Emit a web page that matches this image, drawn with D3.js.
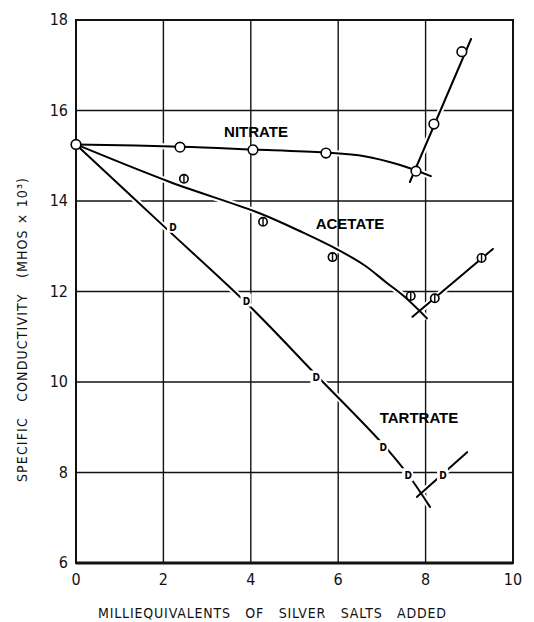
<!DOCTYPE html>
<html>
<head>
<meta charset="utf-8">
<script src="https://cdn.jsdelivr.net/npm/d3@7"></script>
<style>
  body { margin: 0; background: #fff; }
  svg { display: block; }
  .tick-label { font-family: "DejaVu Sans Condensed", "DejaVu Sans", sans-serif; font-size: 16px; font-weight: 300; fill: #111; }
  .axis-title { font-family: "DejaVu Sans Condensed", "DejaVu Sans", sans-serif; font-size: 14px; font-weight: 300; fill: #111; white-space: pre; }
  .series-label { font-family: "Liberation Sans", Arial, sans-serif; font-weight: bold; font-size: 15px; fill: #000; }
</style>
</head>
<body>
<svg id="chart"></svg>
<script>
// Chart size
const width = 534;
const height = 622;

// Tick values
const xTicks = [0, 2, 4, 6, 8, 10];
const yTicks = [6, 8, 10, 12, 14, 16, 18];

// Measured points (milliequivalents, conductivity x 10^3)
const nitrateX = [0, 2.38, 4.05, 5.72, 7.78, 8.19, 8.83];
const nitrateY = [15.25, 15.19, 15.13, 15.06, 14.66, 15.70, 17.30];
const acetateX = [2.47, 4.28, 5.87, 7.66, 8.21, 9.28];
const acetateY = [14.49, 13.54, 12.76, 11.90, 11.85, 12.74];
const tartrateX = [2.22, 3.9, 5.5, 7.03, 7.6, 8.4];
const tartrateY = [13.43, 11.8, 10.1, 8.56, 7.94, 7.94];

// Hand-drawn fitted curves
const nitrateFall = [[0, 15.25], [2.4, 15.2], [4.0, 15.14], [5.7, 15.07], [6.6, 14.99], [7.4, 14.8], [8.12, 14.55]];
const nitrateRise = [[7.64, 14.42], [9.04, 17.58]];
const acetateFall = [[0, 15.25], [2.15, 14.42], [4.2, 13.73], [5.2, 13.3], [6.0, 12.92], [6.6, 12.58], [7.1, 12.2], [7.5, 11.9], [8.03, 11.41]];
const acetateRise = [[7.7, 11.44], [9.54, 12.94]];
const tartrateFall = [[0, 15.25], [2.0, 13.45], [4.0, 11.65], [5.5, 10.15], [7.0, 8.65], [7.6, 7.95], [8.1, 7.24]];
const tartrateRise = [[7.8, 7.46], [8.95, 8.45]];

const svg = d3.select("#chart")
  .attr("width", width)
  .attr("height", height);

const x = d3.scaleLinear().domain([0, 10]).range([76, 513]);
const y = d3.scaleLinear().domain([6, 18]).range([563, 20]);

// Grid lines
const grid = svg.append("g");
grid.selectAll(".vgrid")
  .data(xTicks)
  .join("line")
  .attr("x1", d => x(d)).attr("x2", d => x(d))
  .attr("y1", y(6)).attr("y2", y(18))
  .attr("stroke", "#111")
  .attr("stroke-width", 1.4);
grid.selectAll(".hgrid")
  .data(yTicks)
  .join("line")
  .attr("x1", x(0)).attr("x2", x(10))
  .attr("y1", d => y(d)).attr("y2", d => y(d))
  .attr("stroke", "#111")
  .attr("stroke-width", 1.6);

// Frame
svg.append("rect")
  .attr("x", x(0)).attr("y", y(18))
  .attr("width", x(10) - x(0)).attr("height", y(6) - y(18))
  .attr("fill", "none")
  .attr("stroke", "#111")
  .attr("stroke-width", 2);
svg.append("line")
  .attr("x1", x(0)).attr("x2", x(10))
  .attr("y1", y(6)).attr("y2", y(6))
  .attr("stroke", "#111")
  .attr("stroke-width", 2.8);

// Tick labels
svg.selectAll(".xlab")
  .data(xTicks)
  .join("text")
  .attr("class", "tick-label")
  .attr("x", d => x(d))
  .attr("y", y(6) + 22)
  .attr("text-anchor", "middle")
  .text(d => d);
svg.selectAll(".ylab")
  .data(yTicks)
  .join("text")
  .attr("class", "tick-label")
  .attr("x", 68)
  .attr("y", d => y(d) + 5)
  .attr("text-anchor", "end")
  .text(d => d);

// Axis titles
svg.append("text")
  .attr("class", "axis-title")
  .attr("x", 272)
  .attr("y", 618)
  .attr("text-anchor", "middle")
  .attr("textLength", 348)
  .attr("lengthAdjust", "spacing")
  .text("MILLIEQUIVALENTS   OF   SILVER   SALTS   ADDED");
svg.append("text")
  .attr("class", "axis-title")
  .attr("transform", "translate(27,330) rotate(-90)")
  .attr("text-anchor", "middle")
  .attr("textLength", 304)
  .attr("lengthAdjust", "spacing")
  .text("SPECIFIC   CONDUCTIVITY   (MHOS × 10³)");

// Curves with a white halo that breaks the grid where they cross
const curved = d3.line().x(d => x(d[0])).y(d => y(d[1])).curve(d3.curveCatmullRom.alpha(0.5));
const straight = d3.line().x(d => x(d[0])).y(d => y(d[1]));
const curves = [
  [nitrateFall, curved], [nitrateRise, straight],
  [acetateFall, curved], [acetateRise, straight],
  [tartrateFall, curved], [tartrateRise, straight]
];
curves.forEach(([pts, gen]) => {
  svg.append("path").attr("d", gen(pts))
    .attr("fill", "none").attr("stroke", "#fff").attr("stroke-width", 6);
});
curves.forEach(([pts, gen]) => {
  svg.append("path").attr("d", gen(pts))
    .attr("fill", "none").attr("stroke", "#000").attr("stroke-width", 2)
    .attr("stroke-linecap", "round");
});

// Tartrate markers: letter D sitting in a gap of the line
const tart = svg.append("g");
tartrateX.forEach((v, i) => {
  tart.append("rect")
    .attr("x", x(v) - 6).attr("y", y(tartrateY[i]) - 7)
    .attr("width", 11).attr("height", 13)
    .attr("fill", "#fff");
  tart.append("text")
    .attr("x", x(v))
    .attr("y", y(tartrateY[i]) + 4)
    .attr("text-anchor", "middle")
    .attr("font-family", "DejaVu Sans Condensed, sans-serif")
    .attr("font-size", 10)
    .attr("font-weight", "bold")
    .text("D");
});

// Acetate markers: circle with vertical bar
acetateX.forEach((v, i) => {
  const cx = x(v), cy = y(acetateY[i]);
  svg.append("circle")
    .attr("cx", cx).attr("cy", cy).attr("r", 4.2)
    .attr("fill", "#fff").attr("stroke", "#000").attr("stroke-width", 1.6);
  svg.append("line")
    .attr("x1", cx).attr("x2", cx)
    .attr("y1", cy - 4.2).attr("y2", cy + 4.2)
    .attr("stroke", "#000").attr("stroke-width", 1.4);
});

// Nitrate markers: open circles
svg.selectAll(".nit")
  .data(nitrateX)
  .join("circle")
  .attr("cx", d => x(d))
  .attr("cy", (d, i) => y(nitrateY[i]))
  .attr("r", 4.8)
  .attr("fill", "#fff")
  .attr("stroke", "#000")
  .attr("stroke-width", 1.6);

// Series labels
svg.append("text").attr("class", "series-label")
  .attr("x", 256).attr("y", 137).attr("text-anchor", "middle").text("NITRATE");
svg.append("text").attr("class", "series-label")
  .attr("x", 350).attr("y", 229).attr("text-anchor", "middle").text("ACETATE");
svg.append("text").attr("class", "series-label")
  .attr("x", 419).attr("y", 423).attr("text-anchor", "middle").text("TARTRATE");
</script>
</body>
</html>
